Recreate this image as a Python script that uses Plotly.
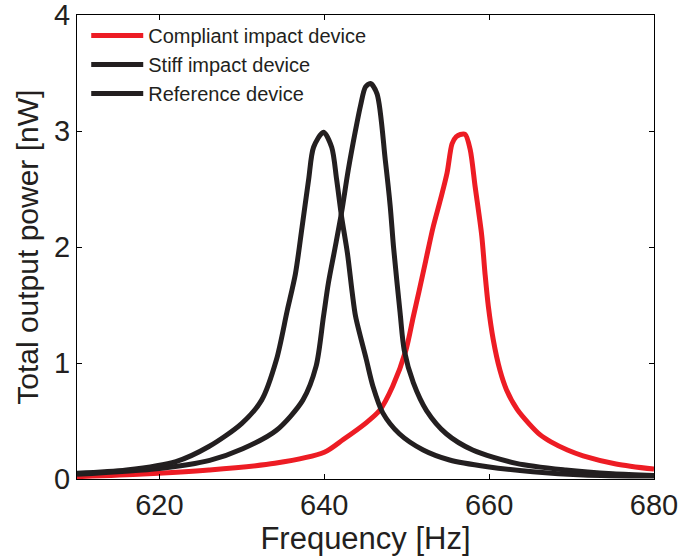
import plotly.graph_objects as go

# Compliant impact device (red)
compliant_x = [610, 618, 626, 634, 640, 642.3, 645, 646.7, 648.3, 649.9, 650.8, 651.5, 652.3,
               653.2, 654.1, 654.9, 655.5, 656.0, 656.5, 657.1, 657.7, 658.3, 659.1, 659.5,
               659.9, 660.5, 661.3, 662.1, 663.4, 664.8, 666.2, 667.5, 669.5, 671.4, 675.4, 680]
compliant_y = [0.02, 0.043, 0.078, 0.135, 0.23, 0.34, 0.48, 0.59, 0.80, 1.11, 1.40, 1.62, 1.88,
               2.17, 2.41, 2.64, 2.89, 2.95, 2.97, 2.97, 2.84, 2.52, 2.10, 1.77,
               1.49, 1.20, 0.94, 0.77, 0.60, 0.48, 0.38, 0.32, 0.25, 0.20, 0.13, 0.085]

# Stiff impact device (black, peak near 645 Hz)
stiff_x = [610, 620, 626.1, 630.1, 634.2, 637.4, 639.0, 639.9, 640.5, 641.3, 642.1, 642.9,
           643.8, 644.4, 645.0, 645.6, 646.4, 647.4, 648.0, 648.4, 649.2, 649.7, 650.8,
           652.4, 654.8, 658, 663.3, 669.3, 675, 680]
stiff_y = [0.04, 0.09, 0.16, 0.26, 0.42, 0.68, 0.97, 1.40, 1.69, 1.99, 2.30, 2.66,
           3.01, 3.22, 3.38, 3.41, 3.32, 2.75, 2.35, 2.0, 1.43, 1.11, 0.83,
           0.59, 0.39, 0.25, 0.135, 0.078, 0.045, 0.03]

# Reference device (black, peak near 640 Hz)
reference_x = [610, 616, 622, 626, 630, 632.4, 634.2, 635.5, 636.5, 637.3, 638.1, 638.7,
               639.9, 640.9, 641.5, 642.1, 642.8, 643.4, 643.8, 645.1, 645.9, 647.1,
               649.1, 652, 655.2, 659.8, 665.3, 671.4, 680]
reference_y = [0.05, 0.078, 0.15, 0.28, 0.48, 0.68, 1.03, 1.45, 1.77, 2.17, 2.58, 2.86,
               2.99, 2.86, 2.58, 2.26, 1.95, 1.60, 1.40, 1.03, 0.80, 0.57,
               0.39, 0.25, 0.164, 0.106, 0.063, 0.035, 0.025]

x_ticks = [620, 640, 660, 680]
y_ticks = [0, 1, 2, 3, 4]

RED = "#ED1C24"
BLACK = "#231F20"
FONT = "Arial, Liberation Sans, sans-serif"

fig = go.Figure()
line_style = dict(width=5, shape="spline", smoothing=0.8)
fig.add_trace(go.Scatter(x=compliant_x, y=compliant_y, mode="lines",
                         name="Compliant impact device",
                         line=dict(color=RED, **line_style)))
fig.add_trace(go.Scatter(x=stiff_x, y=stiff_y, mode="lines",
                         name="Stiff impact device",
                         line=dict(color=BLACK, **line_style)))
fig.add_trace(go.Scatter(x=reference_x, y=reference_y, mode="lines",
                         name="Reference device",
                         line=dict(color=BLACK, **line_style)))

axis_common = dict(showline=True, linecolor="black", linewidth=1, mirror="ticks",
                   ticks="inside", ticklen=5, tickcolor="black", showgrid=False,
                   zeroline=False, automargin=False, ticklabeloverflow="allow",
                   tickfont=dict(size=29, color=BLACK, family=FONT))

fig.update_layout(
    width=696, height=557,
    margin=dict(l=77, r=42, t=15, b=78),
    paper_bgcolor="white", plot_bgcolor="white",
    font=dict(family=FONT, color=BLACK),
    xaxis=dict(range=[610, 680], tickvals=x_ticks, ticktext=[str(v) for v in x_ticks],
               title=dict(text="Frequency [Hz]", font=dict(size=31), standoff=0),
               **axis_common),
    yaxis=dict(range=[0, 4], tickvals=y_ticks, ticktext=[str(v) for v in y_ticks],
               **axis_common),
    legend=dict(x=0.016, y=0.998, xanchor="left", yanchor="top",
                bgcolor="rgba(0,0,0,0)", font=dict(size=20, family=FONT),
                itemwidth=52, tracegroupgap=0),
    showlegend=True,
)
fig.add_annotation(text="Total output power [nW]", xref="paper", yref="paper",
                   x=-0.087, y=0.5, xanchor="center", yanchor="middle",
                   textangle=-90, showarrow=False,
                   font=dict(size=30, family=FONT, color=BLACK))

fig.write_html("out.html", config={"displayModeBar": False},
               post_script="document.body.style.margin='0';document.body.style.overflow='hidden';")
